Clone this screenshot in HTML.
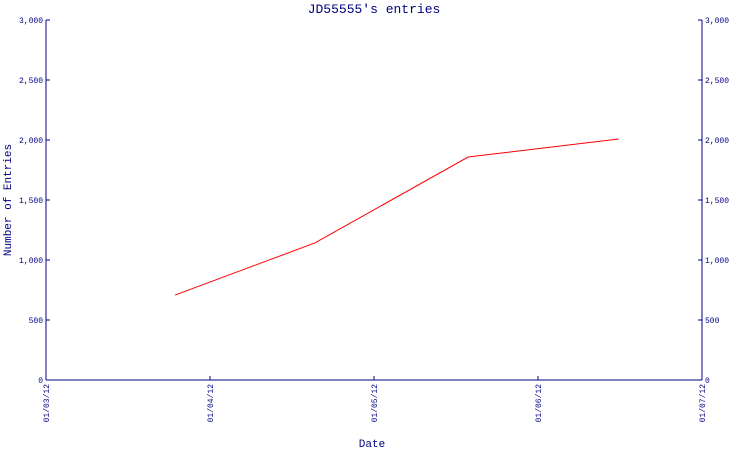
<!DOCTYPE html>
<html><head><meta charset="utf-8"><style>
body{margin:0;background:#fff}
svg{display:block;font-family:"Liberation Mono","DejaVu Sans Mono",monospace}
#axes line{shape-rendering:crispEdges}
</style></head><body>
<svg id="c" width="750" height="450" xmlns="http://www.w3.org/2000/svg">
<text x="374" y="13" text-anchor="middle" font-size="13" fill="#000080">JD55555's entries</text>
<text x="372" y="447" text-anchor="middle" font-size="11" fill="#000080">Date</text>
<text transform="translate(11,200) rotate(-90)" text-anchor="middle" font-size="11" fill="#000080">Number of Entries</text>
<g id="axes"></g>
<g id="marks"></g>
</svg>
<script>
const dateLabels=["01/03/12","01/04/12","01/05/12","01/06/12","01/07/12"];
const dateTickDays=[0,30.5,61,91.5,122];
const yTicks=[0,500,1000,1500,2000,2500,3000];
const pointDays=[24,50,78.5,106.5];
const pointValues=[708,1142,1858,2008];
const NS="http://www.w3.org/2000/svg";
const X0=46,X1=702,Y0=380,Y1=20;
const xs=d=>X0+d/122*(X1-X0);
const ys=v=>Y0-v/3000*(Y0-Y1);
const ax=document.getElementById('axes'),mk=document.getElementById('marks');
function el(t,a,p){const e=document.createElementNS(NS,t);for(const k in a)e.setAttribute(k,a[k]);p.appendChild(e);return e;}
const fmt=v=>v.toLocaleString('en-US');
let l=el('line',{x1:X0,y1:Y1,x2:X0,y2:Y0,stroke:'#000080','stroke-width':1},ax);


l=el('line',{x1:X1,y1:Y1,x2:X1,y2:Y0,stroke:'#000080','stroke-width':1},ax);


l=el('line',{x1:X0,y1:Y0,x2:X1,y2:Y0,stroke:'#000080','stroke-width':1},ax);


yTicks.forEach(v=>{
  const y=ys(v);
  let t=el('text',{x:X0-3,y:y+3,'text-anchor':'end','font-size':8,fill:'#000080'},ax);t.textContent=fmt(v);
  
  
  t=el('text',{x:X1+3,y:y+3,'font-size':8,fill:'#000080'},ax);t.textContent=fmt(v);
  
  
  let k=el('line',{x1:X0,x2:X0+4,y1:y,y2:y,stroke:'#000080'},ax);
  
  
  k=el('line',{x1:X1-4,x2:X1,y1:y,y2:y,stroke:'#000080'},ax);
  
  
});
dateLabels.forEach((s,i)=>{
  const x=xs(dateTickDays[i]);
  const k=el('line',{x1:x,x2:x,y1:Y0-4,y2:Y0,stroke:'#000080'},ax);
  
  
  const t=el('text',{transform:`translate(${x+3},384) rotate(-90)`,'text-anchor':'end','font-size':8,fill:'#000080'},ax);
  t.textContent=s;
  
  
});
const pts=pointDays.map((d,i)=>xs(d)+','+ys(pointValues[i])).join(' ');
const pl=el('polyline',{points:pts,fill:'none',stroke:'#ff0000','stroke-width':1},mk);


</script>
</body></html>
